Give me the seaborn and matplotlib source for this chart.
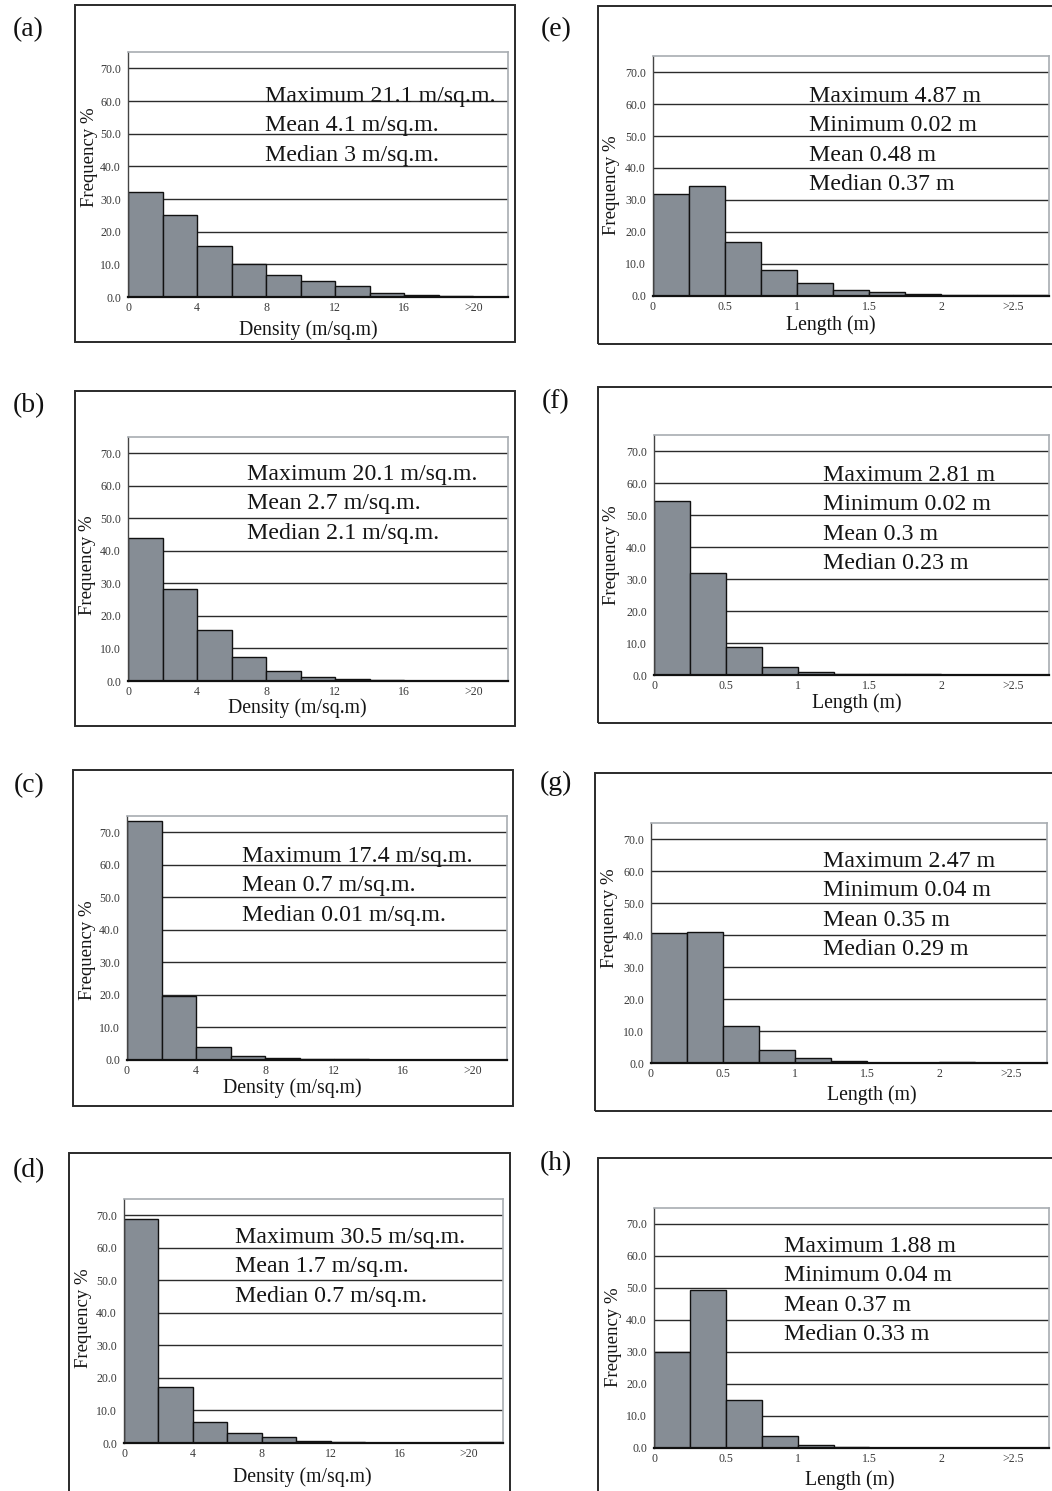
import matplotlib
matplotlib.use("Agg")
import matplotlib.pyplot as plt
from matplotlib.patches import Rectangle
import numpy as np
import seaborn as sns

# ---- data: frequency (%) per class, 11 classes per panel ----
density_edges = [0, 2, 4, 6, 8, 10, 12, 14, 16, 18, 20, 22]
density_ticklabels = ["0", "", "4", "", "8", "", "12", "", "16", "", ">20", ""]
length_edges = [0, 0.25, 0.5, 0.75, 1.0, 1.25, 1.5, 1.75, 2.0, 2.25, 2.5, 2.75]
length_ticklabels = ["0", "", "0.5", "", "1", "", "1.5", "", "2", "", ">2.5", ""]

freq_a = [32.0, 25.2, 15.5, 10.1, 6.7, 4.9, 3.4, 1.2, 0.5, 0.2, 0.0]
freq_b = [44.0, 28.2, 15.7, 7.4, 3.0, 1.1, 0.5, 0.2, 0.0, 0.0, 0.0]
freq_c = [73.5, 19.6, 4.1, 1.3, 0.5, 0.3, 0.3, 0.0, 0.0, 0.0, 0.0]
freq_d = [68.8, 17.2, 6.6, 3.2, 1.9, 0.6, 0.3, 0.1, 0.1, 0.0, 0.2]
freq_e = [31.9, 34.5, 16.8, 8.2, 4.1, 1.8, 1.1, 0.7, 0.4, 0.4, 0.4]
freq_f = [54.5, 32.0, 8.9, 2.6, 1.0, 0.4, 0.2, 0.2, 0.0, 0.0, 0.0]
freq_g = [40.6, 40.9, 11.6, 4.1, 1.5, 0.5, 0.0, 0.0, 0.3, 0.0, 0.0]
freq_h = [30.0, 49.5, 15.0, 3.7, 0.9, 0.4, 0.0, 0.0, 0.0, 0.0, 0.0]

stats_a = ["Maximum 21.1 m/sq.m.", "Mean 4.1 m/sq.m.", "Median 3 m/sq.m."]
stats_b = ["Maximum 20.1 m/sq.m.", "Mean 2.7 m/sq.m.", "Median 2.1 m/sq.m."]
stats_c = ["Maximum 17.4 m/sq.m.", "Mean 0.7 m/sq.m.", "Median 0.01 m/sq.m."]
stats_d = ["Maximum 30.5 m/sq.m.", "Mean 1.7 m/sq.m.", "Median 0.7 m/sq.m."]
stats_e = ["Maximum 4.87 m", "Minimum 0.02 m", "Mean 0.48 m", "Median 0.37 m"]
stats_f = ["Maximum 2.81 m", "Minimum 0.02 m", "Mean 0.3 m", "Median 0.23 m"]
stats_g = ["Maximum 2.47 m", "Minimum 0.04 m", "Mean 0.35 m", "Median 0.29 m"]
stats_h = ["Maximum 1.88 m", "Minimum 0.04 m", "Mean 0.37 m", "Median 0.33 m"]

y_ticks = [0, 10, 20, 30, 40, 50, 60, 70]

# ---- styling ----
sns.set_style("white")
plt.rcParams["font.family"] = ["Liberation Serif", "DejaVu Serif"]

W, H = 1052, 1491
BAR = "#868d95"
fig = plt.figure(figsize=(W / 100, H / 100), dpi=100)
fig.patch.set_facecolor("white")


def fx(x):
    return x / W


def fy(y):
    return 1 - y / H


# layout in pixels: frame (l, t, r, b), axes (l, t, r, b), label centre,
# first stats baseline, x-label baseline centre, y-label centre
layout = [
    ("(a)", freq_a, stats_a, "density", (75, 5, 515, 342), (128, 52, 508, 297), (28, 30), (265, 102), (308, 335), (89, 157)),
    ("(b)", freq_b, stats_b, "density", (75, 391, 515, 726), (128, 437, 508, 681), (29, 406), (247, 480), (297, 713), (88, 565)),
    ("(c)", freq_c, stats_c, "density", (73, 770, 513, 1106), (127, 816, 507, 1060), (29, 786), (242, 862), (292, 1093), (87, 950)),
    ("(d)", freq_d, stats_d, "density", (69, 1153, 510, 1505), (124, 1199, 503, 1443), (29, 1171), (235, 1243), (302, 1482), (83, 1318)),
    ("(e)", freq_e, stats_e, "length", (598, 6, 1065, 344), (653, 56, 1049, 296), (556, 30), (809, 102), (831, 330), (612, 185)),
    ("(f)", freq_f, stats_f, "length", (598, 387, 1065, 723), (654, 435, 1049, 675), (556, 402), (823, 481), (857, 708), (612, 555)),
    ("(g)", freq_g, stats_g, "length", (595, 773, 1065, 1111), (651, 823, 1047, 1063), (556, 783), (823, 867), (872, 1100), (609, 918)),
    ("(h)", freq_h, stats_h, "length", (598, 1158, 1065, 1505), (654, 1208, 1049, 1448), (556, 1164), (784, 1252), (850, 1485), (613, 1337)),
]

for (tag, freq, stats, kind, frame, box, lab, st, xl, yl) in layout:
    # surrounding frame
    fl, ft, fr, fb = frame
    fig.add_artist(Rectangle((fx(fl), fy(fb)), (fr - fl) / W, (fb - ft) / H,
                             transform=fig.transFigure, fill=False,
                             edgecolor="#2a2a2a", linewidth=1.4))
    fig.text(fx(lab[0]), fy(lab[1]), tag, ha="center", va="center", fontsize=20, color="#111")

    l, t, r, b = box
    ax = fig.add_axes([fx(l), fy(b), (r - l) / W, (b - t) / H])

    edges = density_edges if kind == "density" else length_edges
    ticklabels = density_ticklabels if kind == "density" else length_ticklabels
    centers = [(edges[i] + edges[i + 1]) / 2 for i in range(len(freq))]

    sns.histplot(x=centers, weights=freq, bins=edges, stat="count",
                 color=BAR, edgecolor="#111", linewidth=1.0, alpha=1.0, ax=ax)

    ax.set_xlim(edges[0], edges[-1])
    ax.set_ylim(0, 75)
    ax.set_yticks(y_ticks)
    ax.set_yticklabels([f"{v:.1f}" for v in y_ticks])
    ax.set_xticks(edges)
    ax.set_xticklabels(ticklabels)
    ax.set_xlabel("")
    ax.set_ylabel("")
    ax.set_axisbelow(True)
    ax.grid(axis="y", color="#2b2b2b", linewidth=1.0)
    ax.grid(axis="x", visible=False)
    ax.tick_params(axis="both", labelsize=8.6, labelcolor="#3a3a3a", color="#222",
                   direction="out", length=3, width=0.8, pad=2)
    ax.tick_params(axis="x", direction="inout", length=5, pad=1)
    for s in ("top", "right"):
        ax.spines[s].set_color("#a8adb2")
        ax.spines[s].set_linewidth(1.2)
    ax.spines["left"].set_color("#444")
    ax.spines["left"].set_linewidth(1.0)
    ax.spines["bottom"].set_color("#111")
    ax.spines["bottom"].set_linewidth(1.6)

    # summary statistics
    for i, line in enumerate(stats):
        fig.text(fx(st[0]), fy(st[1] + i * 29.3), line, ha="left", va="baseline",
                 fontsize=17.2, color="#151515")

    xlabel = "Density (m/sq.m)" if kind == "density" else "Length (m)"
    fig.text(fx(xl[0]), fy(xl[1]), xlabel, ha="center", va="baseline", fontsize=14.2, color="#151515")
    fig.text(fx(yl[0]), fy(yl[1]), "Frequency %", ha="center", va="center",
             rotation=90, fontsize=13.5, color="#151515")

fig.savefig("out.png", dpi=100, facecolor="white")
